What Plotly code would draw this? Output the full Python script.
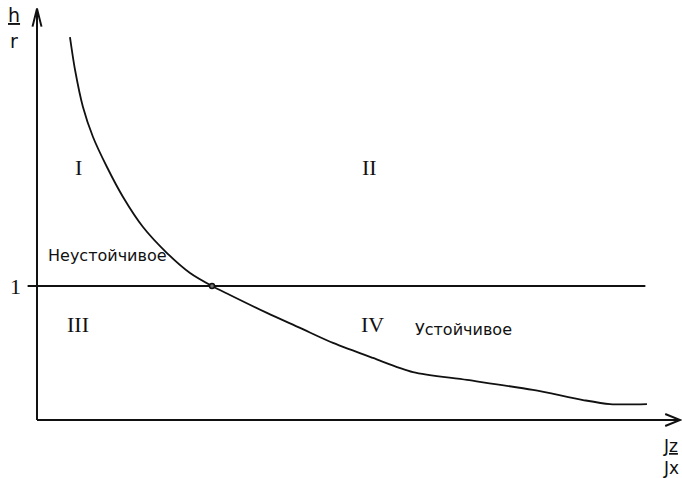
import plotly.graph_objects as go

# px -> data: 134 px per unit, origin at pixel (37, 420) of the picture
CURVE_X = [0.246, 0.284, 0.343, 0.418, 0.522, 0.642, 0.791, 0.970, 1.142, 1.306,
           1.440, 1.716, 1.963, 2.209, 2.507, 2.806, 3.209, 3.701, 4.075, 4.276, 4.552]
CURVE_Y = [2.858, 2.612, 2.336, 2.112, 1.888, 1.664, 1.440, 1.246, 1.097, 1.000,
           0.933, 0.799, 0.687, 0.575, 0.463, 0.358, 0.299, 0.224, 0.149, 0.119, 0.119]
LEVEL_X = [-0.07, 4.54]
LEVEL_Y = [1, 1]
CROSS_X = [1.306]
CROSS_Y = [1.0]
ROMAN = ["I", "II", "III", "IV"]
ROMAN_X = [0.306, 2.478, 0.306, 2.507]
ROMAN_Y = [1.881, 1.881, 0.709, 0.709]
X_TIP, Y_TIP = 4.80, 3.07

PX = 1 / 134  # one screen pixel in data units
INK = "#111111"
SANS = "DejaVu Sans, sans-serif"
SERIF = "Liberation Serif, serif"

fig = go.Figure()
fig.add_scatter(x=LEVEL_X, y=LEVEL_Y, mode="lines", line={"color": INK, "width": 2}, hoverinfo="skip")
fig.add_scatter(x=CURVE_X, y=CURVE_Y, mode="lines", line={"color": INK, "width": 1.8, "shape": "spline", "smoothing": 0.8},
                hoverinfo="skip")
fig.add_scatter(x=CROSS_X, y=CROSS_Y, mode="markers", hoverinfo="skip",
                marker={"size": 5, "color": "#777777", "line": {"color": INK, "width": 1.5}})

# axes with open arrow heads
fig.add_shape(type="line", x0=0, y0=0, x1=X_TIP, y1=0, line={"color": INK, "width": 2})
fig.add_shape(type="line", x0=0, y0=0, x1=0, y1=Y_TIP, line={"color": INK, "width": 2})
fig.add_shape(type="path", line={"color": INK, "width": 2},
              path=f"M{X_TIP - 15 * PX},{6 * PX} L{X_TIP},0 L{X_TIP - 15 * PX},{-6 * PX}")
fig.add_shape(type="path", line={"color": INK, "width": 2},
              path=f"M{-4.5 * PX},{Y_TIP - 18 * PX} L0,{Y_TIP} L{4.5 * PX},{Y_TIP - 18 * PX}")

for t, x, y in zip(ROMAN, ROMAN_X, ROMAN_Y):
    fig.add_annotation(x=x, y=y, text=t, showarrow=False, font={"family": SERIF, "size": 22, "color": INK})

fig.add_annotation(x=-0.164, y=1, text="1", showarrow=False, font={"family": SERIF, "size": 22, "color": INK})
fig.add_annotation(x=0.067, y=1.224, text="Неустойчивое", showarrow=False, xanchor="left",
                   font={"family": SANS, "size": 16, "color": INK})
fig.add_annotation(x=2.806, y=0.679, text="Устойчивое", showarrow=False, xanchor="left",
                   font={"family": SANS, "size": 16, "color": INK})

fig.add_annotation(x=-0.172, y=3.022, text="<u>h</u>", showarrow=False, font={"family": SANS, "size": 19, "color": INK})
fig.add_annotation(x=-0.172, y=2.83, text="r", showarrow=False, font={"family": SANS, "size": 19, "color": INK})
fig.add_annotation(x=4.73, y=-0.194, text="<u>Jz</u>", showarrow=False, font={"family": SANS, "size": 17, "color": INK})
fig.add_annotation(x=4.73, y=-0.355, text="Jx", showarrow=False, font={"family": SANS, "size": 17, "color": INK})

fig.update_layout(width=682, height=478, autosize=False, margin={"l": 0, "r": 0, "t": 0, "b": 0},
                  paper_bgcolor="white", plot_bgcolor="white", showlegend=False)
fig.update_xaxes(range=[-37 * PX, (682 - 37) * PX], visible=False)
fig.update_yaxes(range=[(420 - 478) * PX, 420 * PX], visible=False)

# drop the default body margin so the figure fills the window exactly
fig.write_html("out.html", config={"displayModeBar": False},
               post_script="document.body.style.margin='0';document.body.style.overflow='hidden';")
